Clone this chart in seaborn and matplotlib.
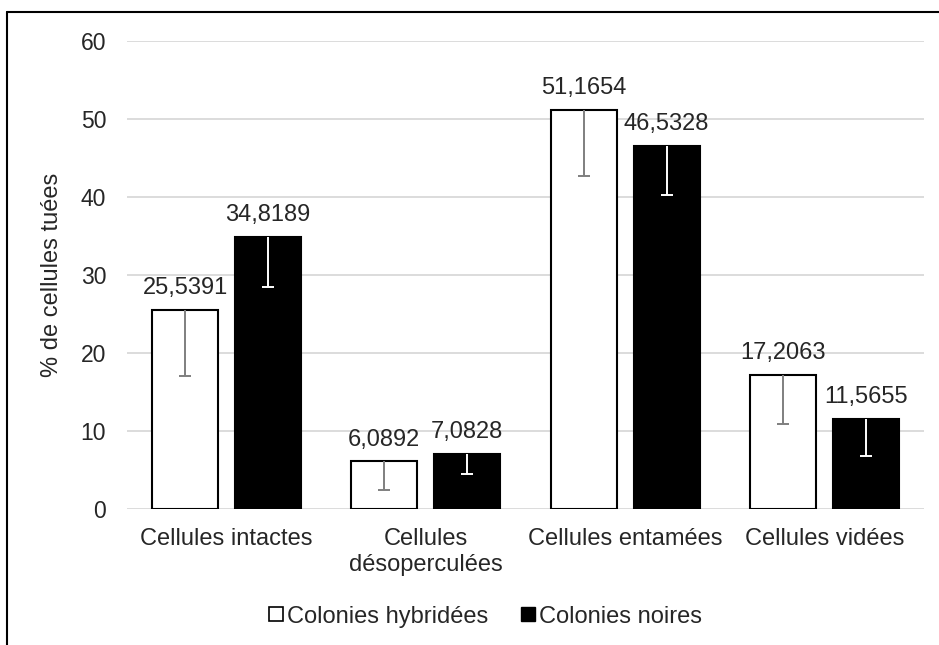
import numpy as np
import pandas as pd
import matplotlib
matplotlib.use('Agg')
import matplotlib.pyplot as plt
import seaborn as sns
from matplotlib.lines import Line2D

categories = ['Cellules intactes', 'Cellules\ndésoperculées', 'Cellules entamées', 'Cellules vidées']
groups = ['Colonies hybridées', 'Colonies noires']
hybrid = [25.5391, 6.0892, 51.1654, 17.2063]
noires = [34.8189, 7.0828, 46.5328, 11.5655]
# barres d'erreur (vers le bas seulement)
hybrid_err = [8.44, 3.65, 8.5, 6.27]
noires_err = [6.3, 2.63, 6.33, 4.73]

sns.set_style('white')
plt.rcParams['font.family'] = ['Liberation Sans', 'DejaVu Sans']

df = pd.DataFrame({
    'cat': categories * 2,
    'val': hybrid + noires,
    'grp': [groups[0]] * 4 + [groups[1]] * 4,
})

fig = plt.figure(figsize=(9.39, 6.45), dpi=100)
ax = fig.add_axes([0.1352, 0.2109, 0.8488, 0.7256])

sns.barplot(data=df, x='cat', y='val', hue='grp', hue_order=groups, order=categories,
            palette={groups[0]: 'white', groups[1]: 'black'}, edgecolor='black',
            linewidth=1.5, width=0.833, gap=0.205, errorbar=None, legend=False, ax=ax)

ecolors = ['#7f7f7f', 'white']
errs = [hybrid_err, noires_err]
for cont, ec, err in zip(ax.containers, ecolors, errs):
    xs = np.array([r.get_x() + r.get_width() / 2 for r in cont])
    ys = np.array([r.get_height() for r in cont])
    _, caps, _ = ax.errorbar(xs, ys, yerr=[err, np.zeros(len(err))], fmt='none', ecolor=ec,
                             elinewidth=1.4, capsize=4.5, capthick=1.4, zorder=3)
    for c in caps:
        if np.allclose(c.get_ydata(), ys):
            c.set_visible(False)
    for x, y in zip(xs, ys):
        ax.annotate(f'{y:.4f}'.replace('.', ','), (x, y), xytext=(0, 11.5),
                    textcoords='offset points', ha='center', va='baseline', fontsize=17)

ax.set_ylim(0, 60)
ax.set_yticks(range(0, 61, 10))
ax.set_xlim(-0.5, 3.5)
ax.grid(axis='y', color='#d9d9d9', linewidth=1.3)
ax.set_axisbelow(True)
for s in ax.spines.values():
    s.set_visible(False)
ax.tick_params(axis='y', length=0, pad=15, labelsize=16.5)
ax.tick_params(axis='x', length=0, pad=14, labelsize=17)
ax.set_xlabel('')
ax.set_ylabel('% de cellules tuées', fontsize=17)
ax.yaxis.set_label_coords(-0.08, 0.5)

handles = [Line2D([], [], marker='s', linestyle='none', markersize=9.5, markerfacecolor='white',
                  markeredgecolor='black', markeredgewidth=1.2),
           Line2D([], [], marker='s', linestyle='none', markersize=9.5, markerfacecolor='black',
                  markeredgecolor='black')]
fig.legend(handles, groups, loc='center', bbox_to_anchor=(0.516, 0.044), ncol=2, frameon=False,
           fontsize=17, handletextpad=0.05, columnspacing=1.3, handlelength=0.8)

fig.add_artist(Line2D([7 / 939, 1], [1 - 12 / 645] * 2, transform=fig.transFigure, color='black', lw=1.5))
fig.add_artist(Line2D([7 / 939] * 2, [0, 1 - 12 / 645], transform=fig.transFigure, color='black', lw=1.5))

fig.savefig('out.png', dpi=100)
